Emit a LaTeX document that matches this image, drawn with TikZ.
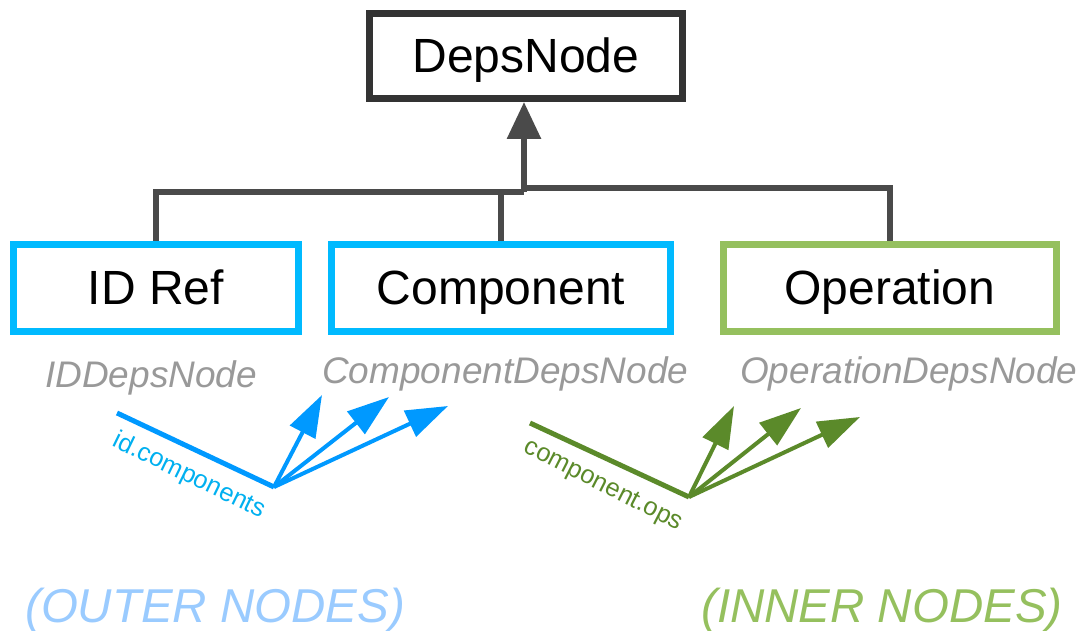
\documentclass[tikz,border=0pt]{standalone}
\usepackage{fontspec}
\setmainfont{Liberation Sans}
\usetikzlibrary{arrows.meta}
\definecolor{boxdark}{HTML}{333333}
\definecolor{conn}{HTML}{4A4A4A}
\definecolor{cyanbox}{HTML}{00BAFF}
\definecolor{greenbox}{HTML}{95C05E}
\definecolor{labgray}{HTML}{999999}
\definecolor{bluearrow}{HTML}{0099FF}
\definecolor{bluetext}{HTML}{00B0F0}
\definecolor{greenarrow}{HTML}{5B8A2A}
\definecolor{outerblue}{HTML}{9ACBFF}
\tikzset{
  box/.style={draw, line width=7pt, inner sep=0pt, fill=white,
    font=\fontsize{48}{48}\selectfont, text height=34pt, text depth=0pt},
  connline/.style={draw=conn, line width=6pt},
  typelabel/.style={anchor=base west, inner sep=0pt, text=labgray,
    font=\fontsize{37}{37}\selectfont\itshape},
  ptrlabel/.style={inner sep=0pt, font=\fontsize{25.5}{25.5}\selectfont},
  kindlabel/.style={anchor=base west, inner sep=0pt,
    font=\fontsize{47.5}{47.5}\selectfont\itshape},
  bluearr/.style={draw=bluearrow, line width=4pt, -{Triangle[length=42pt,width=28pt]}},
  greenarr/.style={draw=greenarrow, line width=4pt, -{Triangle[length=42pt,width=28pt]}},
}
\begin{document}
\begin{tikzpicture}[x=1pt,y=-1pt]
\useasboundingbox[fill=white] (0,0) rectangle (1080,631);

% boxes
\node[box, draw=boxdark, minimum width=313pt, minimum height=85pt] (deps) at (526,56) {DepsNode};
\node[box, draw=cyanbox, minimum width=285pt, minimum height=87pt] (idref) at (156,288) {ID Ref};
\node[box, draw=cyanbox, minimum width=339pt, minimum height=87pt] (comp) at (501,288) {Component};
\node[box, draw=greenbox, minimum width=333pt, minimum height=87pt] (oper) at (890,288) {Operation};

% inheritance connectors
\coordinate (jl) at (524,192);
\coordinate (jr) at (524,188);
\draw[connline] (idref.north) |- (jl);
\draw[connline] (comp.north) |- (jl);
\draw[connline] (oper.north) |- (jr);
\draw[connline, -{Triangle[length=37pt,width=33pt]}] (jl) -- (deps.south -| jl);

% type labels
\node[typelabel] (tid) at (45,387) {IDDepsNode};
\node[typelabel] (tcomp) at (322,383) {ComponentDepsNode};
\node[typelabel] (toper) at (740,383) {OperationDepsNode};

% outer pointer fan (blue)
\coordinate (bs) at (117,413);
\coordinate (bo) at (274,487);
\coordinate (b1) at (322,395);
\coordinate (b2) at (389,397);
\coordinate (b3) at (448,406);
\draw[draw=bluearrow, line width=5pt] (bs) -- (bo);
\draw[bluearr] (bo) -- (b1);
\draw[bluearr] (bo) -- (b2);
\draw[bluearr] (bo) -- (b3);
\node[ptrlabel, text=bluetext, rotate=-26] (lid) at (189,476) {id.components};

% inner pointer fan (green)
\coordinate (gs) at (530,423);
\coordinate (go) at (689,497);
\coordinate (g1) at (734,406);
\coordinate (g2) at (801,408);
\coordinate (g3) at (860,417);
\draw[draw=greenarrow, line width=5pt] (gs) -- (go);
\draw[greenarr] (go) -- (g1);
\draw[greenarr] (go) -- (g2);
\draw[greenarr] (go) -- (g3);
\node[ptrlabel, text=greenarrow, rotate=-27] (lcomp) at (603,486) {component.ops};

% bottom captions
\node[kindlabel, text=outerblue] (outer) at (25,622) {(OUTER NODES)};
\node[kindlabel, text=greenbox] (inner) at (701,622) {(INNER NODES)};
\end{tikzpicture}
\end{document}
